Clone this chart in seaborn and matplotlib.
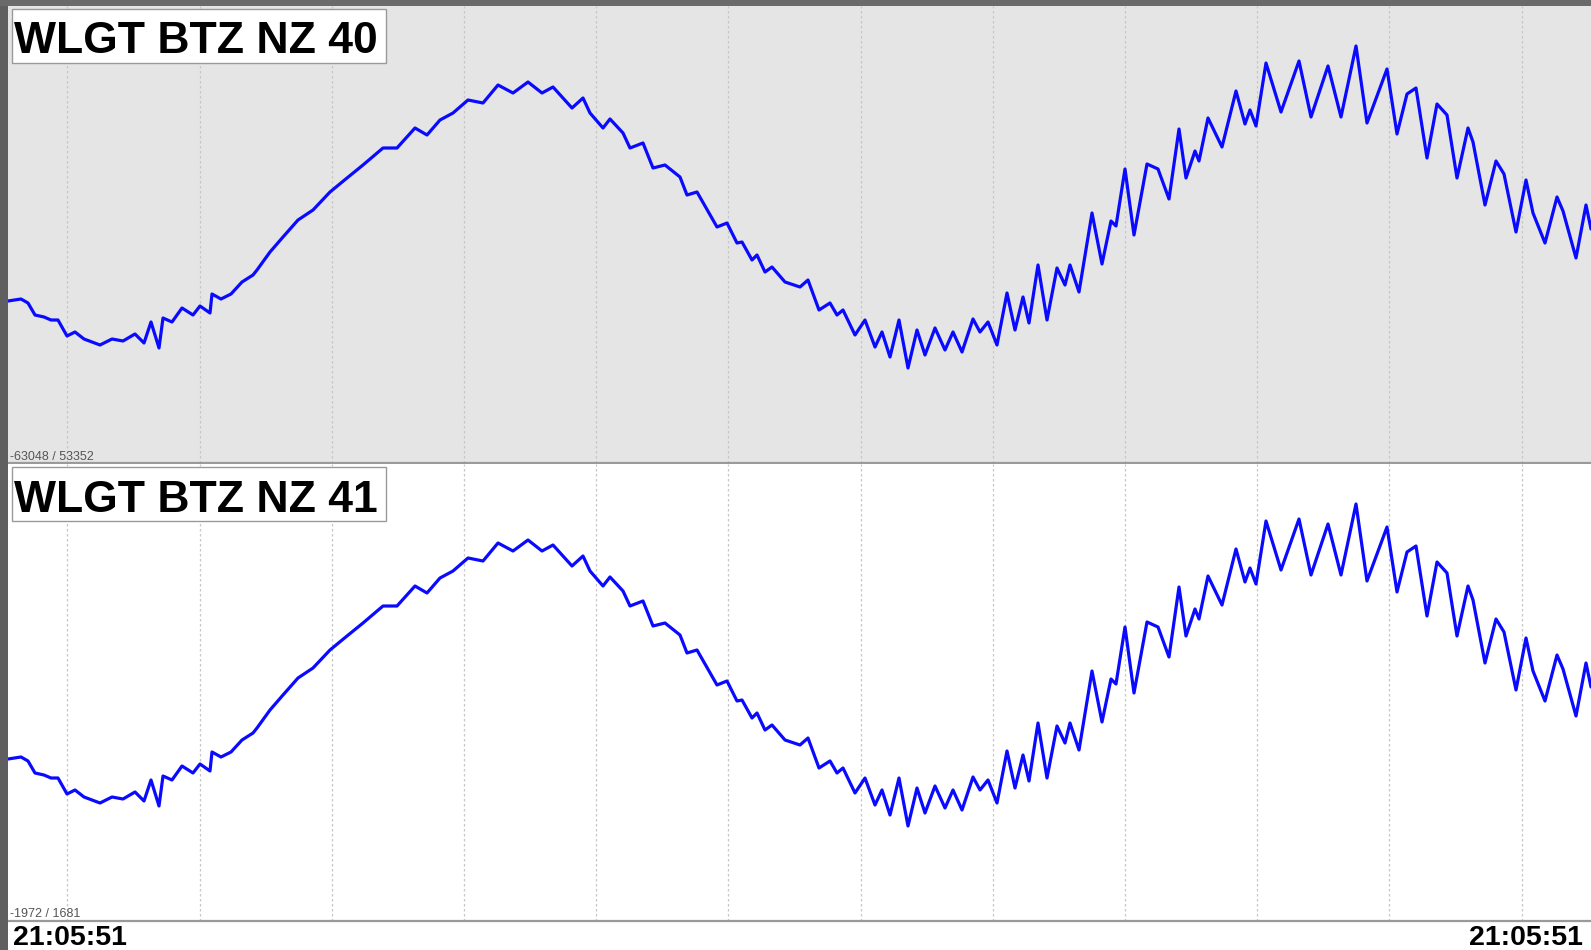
# Helicorder-style trace: WLGT BTZ NZ channels 40 / 41
import numpy as np
import pandas as pd
import matplotlib.pyplot as plt
from matplotlib.patches import Rectangle
import seaborn as sns

# ---------------------------------------------------------------------------
# data
# ---------------------------------------------------------------------------
channels = ['WLGT BTZ NZ 40', 'WLGT BTZ NZ 41']
count_ranges = ['-63048 / 53352', '-1972 / 1681']
time_start = '21:05:51'
time_end = '21:05:51'

# time index (screen column) and amplitude (display units, up = positive)
t_idx = [8, 21, 28, 35, 44, 51, 58, 67, 75, 84, 100, 112, 123, 135, 144, 151,
         159, 163, 172, 182, 193, 200, 210, 212, 221, 231, 242, 253, 257, 270,
         283, 298, 313, 330, 347, 363, 383, 397, 415, 427, 440, 453, 468, 483,
         498, 513, 528, 542, 553, 572, 583, 590, 603, 610, 623, 630, 643, 653,
         665, 680, 687, 697, 717, 727, 737, 742, 752, 757, 765, 772, 785, 800,
         808, 819, 830, 837, 843, 855, 865, 875, 882, 890, 899, 908, 917, 925,
         935, 945, 953, 962, 973, 980, 988, 997, 1007, 1015, 1023, 1029, 1038,
         1047, 1057, 1065, 1070, 1079, 1092, 1102, 1111, 1116, 1125, 1134, 1147,
         1158, 1169, 1179, 1186, 1195, 1199, 1208, 1222, 1236, 1245, 1250, 1256,
         1266, 1281, 1299, 1311, 1328, 1341, 1356, 1367, 1387, 1397, 1407, 1416,
         1427, 1437, 1447, 1457, 1468, 1473, 1485, 1496, 1504, 1516, 1526, 1533,
         1545, 1557, 1563, 1576, 1586, 1591]
amp = [-67, -65, -69, -81, -83, -86, -86, -102, -98, -105, -111, -105, -107, -100,
       -109, -88, -114, -84, -88, -74, -81, -72, -79, -60, -65, -60, -48, -41,
       -36, -18, -3, 14, 24, 42, 56, 69, 86, 86, 106, 99, 114, 121, 134, 131,
       149, 141, 152, 141, 147, 126, 136, 121, 106, 115, 101, 86, 91, 66, 69,
       57, 39, 42, 7, 11, -9, -8, -26, -21, -38, -33, -48, -53, -46, -76, -69,
       -81, -76, -101, -86, -113, -98, -123, -86, -134, -96, -121, -94, -116,
       -98, -118, -85, -98, -88, -111, -59, -96, -63, -89, -31, -86, -34, -51,
       -31, -58, 21, -30, 13, 8, 65, -1, 70, 65, 35, 105, 56, 83, 73, 116, 87,
       143, 110, 124, 108, 171, 122, 173, 117, 168, 117, 188, 111, 165, 100,
       140, 146, 76, 130, 119, 56, 106, 92, 29, 73, 60, 2, 54, 21, -9, 37, 23,
       -24, 29, 5]

df = pd.DataFrame({'t': t_idx, 'amp': amp})

# ---------------------------------------------------------------------------
# layout (screen pixels)
# ---------------------------------------------------------------------------
W, H = 1591, 950
X0 = 8                      # left edge of the panels
panels = [(6, 463, '#e5e5e5'), (464, 921, 'white')]
label_boxes = [(9, 63, 53), (467, 521, 512)]   # box top, box bottom, baseline
range_baselines = [460, 917]
grid_x = [67.5 + 132.2 * k for k in range(12)]

sns.set_theme(style='white')
plt.rcParams['font.family'] = ['Liberation Sans', 'DejaVu Sans']

fig = plt.figure(figsize=(W / 100, H / 100), dpi=100)
fig.patch.set_facecolor('white')


def fy(y):
    return 1 - y / H


for i, (top, bot, bg) in enumerate(panels):
    ax = fig.add_axes([X0 / W, fy(bot), (W - X0) / W, (bot - top) / H])
    ax.set_facecolor(bg)
    for x in grid_x:
        ax.axvline(x, color='#c6c6c6', lw=0.9, ls=(0, (2, 2)), zorder=0)
    sns.lineplot(data=df, x='t', y='amp', ax=ax, color='#0a0aff',
                 linewidth=2.3, estimator=None, sort=False, zorder=3)
    ax.set_xlim(X0, W)
    ax.set_ylim(-229, 228)
    ax.set_xticks([])
    ax.set_yticks([])
    ax.set_xlabel('')
    ax.set_ylabel('')
    for s in ['left', 'right', 'top']:
        ax.spines[s].set_visible(False)
    ax.spines['bottom'].set_color('#9a9a9a')
    ax.spines['bottom'].set_linewidth(1.6)

    # channel label box
    btop, bbot, base = label_boxes[i]
    fig.patches.append(Rectangle((11.5 / W, fy(bbot)), (386 - 11.5) / W,
                                 (bbot - btop) / H, transform=fig.transFigure,
                                 facecolor='white', edgecolor='#9a9a9a',
                                 lw=1.0, zorder=5))
    fig.text(14 / W, fy(base), channels[i], fontsize=32, fontweight='bold',
             color='black', ha='left', va='baseline', zorder=6)

    # count range
    fig.text(10 / W, fy(range_baselines[i]), count_ranges[i], fontsize=9,
             color='#555555', ha='left', va='baseline', zorder=6)

# time labels below the bottom panel
fig.text(13 / W, fy(945), time_start, fontsize=20.5, fontweight='bold',
         color='black', ha='left', va='baseline')
fig.text(1583 / W, fy(945), time_end, fontsize=20.5, fontweight='bold',
         color='black', ha='right', va='baseline')

# dark window frame, left and top
fig.patches.append(Rectangle((0, 0), X0 / W, 1, transform=fig.transFigure,
                             facecolor='#5f5f5f', edgecolor='none', zorder=10))
fig.patches.append(Rectangle((0, fy(6)), 1, 6 / H, transform=fig.transFigure,
                             facecolor='#6a6a6a', edgecolor='none', zorder=10))

fig.savefig('out.png', dpi=100)
